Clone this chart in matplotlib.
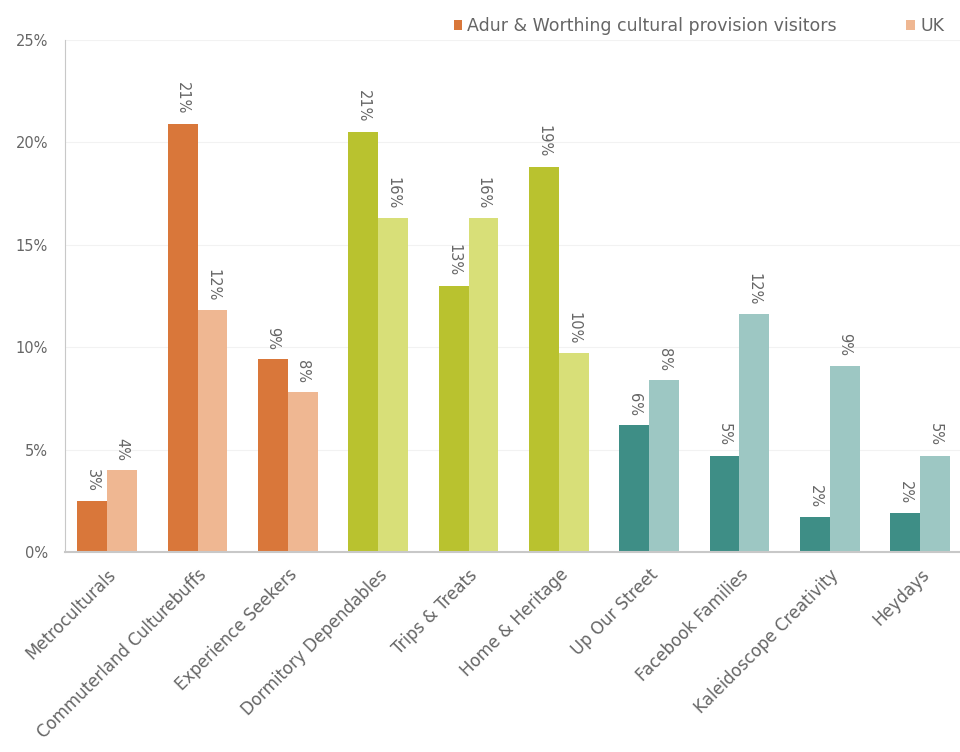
import matplotlib.pyplot as plt
import numpy as np

categories = ['Metroculturals', 'Commuterland Culturebuffs', 'Experience Seekers',
              'Dormitory Dependables', 'Trips & Treats', 'Home & Heritage',
              'Up Our Street', 'Facebook Families', 'Kaleidoscope Creativity', 'Heydays']
adur = [2.5, 20.9, 9.4, 20.5, 13.0, 18.8, 6.2, 4.7, 1.7, 1.9]
uk = [4.0, 11.8, 7.8, 16.3, 16.3, 9.7, 8.4, 11.6, 9.1, 4.7]
adur_labels = ['3%', '21%', '9%', '21%', '13%', '19%', '6%', '5%', '2%', '2%']
uk_labels = ['4%', '12%', '8%', '16%', '16%', '10%', '8%', '12%', '9%', '5%']

# colours per segment group (dark for Adur & Worthing, light for UK)
dark = ['#D9773A'] * 3 + ['#B9C22F'] * 3 + ['#3E8E86'] * 4
light = ['#EFB792'] * 3 + ['#D8DF78'] * 3 + ['#9DC7C3'] * 4

txt = '#666666'
fig = plt.figure(figsize=(9.6, 7.52), dpi=100)
ax = fig.add_axes([0.0675, 0.266, 0.938, 0.681])

x = np.arange(len(categories))
w = 0.33
b1 = ax.bar(x - w / 2, adur, w, color=dark, label='Adur & Worthing cultural provision visitors')
b2 = ax.bar(x + w / 2, uk, w, color=light, label='UK')

for rect, lab in zip(b1, adur_labels):
    ax.text(rect.get_x() + rect.get_width() / 2, rect.get_height() + 0.45, lab,
            rotation=-90, ha='center', va='bottom', fontsize=10.5, color=txt)
for rect, lab in zip(b2, uk_labels):
    ax.text(rect.get_x() + rect.get_width() / 2, rect.get_height() + 0.45, lab,
            rotation=-90, ha='center', va='bottom', fontsize=10.5, color=txt)

ax.set_ylim(0, 25)
ax.set_xlim(-0.47, 9.5)
ax.set_yticks([0, 5, 10, 15, 20, 25])
ax.set_yticklabels(['0%', '5%', '10%', '15%', '20%', '25%'], fontsize=10.5, color=txt)
ax.set_xticks(x)
ax.set_xticklabels(categories, rotation=45, ha='right', rotation_mode='anchor',
                   fontsize=12, color=txt)
ax.tick_params(axis='x', length=0, pad=10)
ax.tick_params(axis='y', length=0, pad=12)
ax.grid(axis='y', color='#f2f2f2', lw=0.8)
ax.set_axisbelow(True)
for s in ['top', 'right']:
    ax.spines[s].set_visible(False)
ax.spines['left'].set_color('#c8c8c8')
ax.spines['bottom'].set_color('#c8c8c8')
ax.spines['bottom'].set_linewidth(1.5)

leg = fig.legend(handles=[b1[0], b2[0]], labels=['Adur & Worthing cultural provision visitors', 'UK'],
                 loc='upper right', bbox_to_anchor=(1.0, 0.998), ncol=2, frameon=False,
                 fontsize=12.5, handlelength=0.5, handleheight=0.5, handletextpad=0.3,
                 columnspacing=4)
for t in leg.get_texts():
    t.set_color(txt)

fig.savefig('out.png', dpi=100)
